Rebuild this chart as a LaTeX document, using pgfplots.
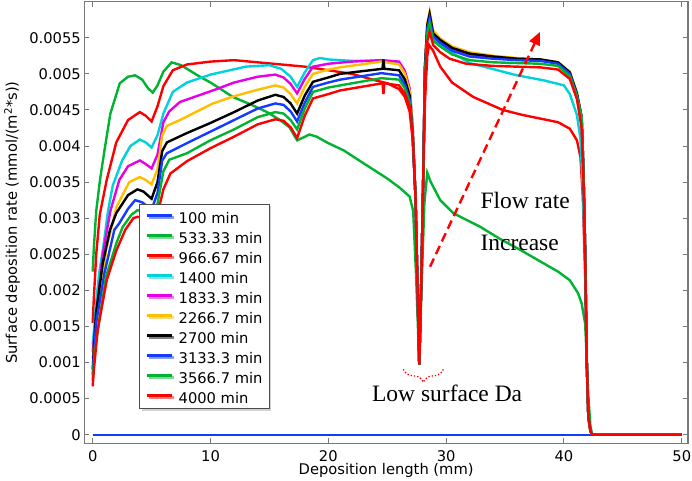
\documentclass[border=0pt]{standalone}
\usepackage{fontspec}
\setmainfont{DejaVu Sans}
\newfontfamily\tnr{Liberation Serif}
\usepackage{pgfplots}
\pgfplotsset{compat=1.18}
\usetikzlibrary{arrows.meta,decorations.pathreplacing,shadows}
\definecolor{cblue}{RGB}{20,60,255}
\definecolor{cgreen}{RGB}{0,180,50}
\definecolor{cred}{RGB}{255,0,0}
\definecolor{ccyan}{RGB}{0,210,220}
\definecolor{cmag}{RGB}{230,0,230}
\definecolor{corange}{RGB}{255,190,0}
\definecolor{framegray}{RGB}{120,120,120}
\begin{document}
\begin{tikzpicture}
\begin{axis}[
  scale only axis, width=603.7pt, height=441.6pt,
  xmin=-0.713, xmax=50.53, ymin=-0.000119, ymax=0.006,
  xtick={0,10,20,30,40,50},
  ytick={0,0.0005,0.001,0.0015,0.002,0.0025,0.003,0.0035,0.004,0.0045,0.005,0.0055},
  scaled y ticks=false, scaled x ticks=false,
  /pgf/number format/assume math mode=true,
  yticklabel style={/pgf/number format/fixed,/pgf/number format/precision=4,anchor=east,inner sep=0pt,xshift=-3.3pt},
  xticklabel style={anchor=north,inner sep=0pt,yshift=-6.7pt},
  ticklabel style={font=\fontsize{14.7}{17}\selectfont},
  tick align=inside, major tick length=5pt,
  axis line style={framegray,line width=1.3pt},
  every tick/.style={framegray,line width=1pt},
  xlabel={Deposition length (mm)},
  ylabel={Surface deposition rate (mmol/(m\textsuperscript{2}*s))},
  every axis x label/.style={at={(axis description cs:0.5,-0.0718)},anchor=base,inner sep=0pt,font=\fontsize{14.7}{17}\selectfont},
  every axis y label/.style={at={(axis description cs:-0.1115,0.5)},rotate=90,anchor=base,inner sep=0pt,font=\fontsize{14.7}{17}\selectfont},
  legend style={at={(axis description cs:0.0911,0.542)},anchor=north west,draw=gray!60!black,line width=1pt,fill=white,
    font=\fontsize{14.7}{17}\selectfont,inner xsep=6.5pt,inner ysep=5pt,row sep=5.7pt,
    nodes={inner sep=0pt,text height=14.3pt,text depth=0pt},
    /tikz/every odd column/.append style={column sep=5pt},
    drop shadow={shadow xshift=2pt,shadow yshift=-2pt,fill=gray!70}},
  legend cell align=left,
  legend image code/.code={\draw[#1,line width=2.4pt] (0pt,1pt) -- (25pt,1pt);},
  every axis plot/.append style={line width=2.4pt},
]
\addplot[cblue] coordinates {(0,0)(50,0)};
\addlegendentry{100 min}
\addplot[cgreen] coordinates {(0,0.00226)(0.1,0.0026)(0.3,0.0031)(0.62,0.00353)(1.0,0.00394)(1.5,0.00445)(2.3,0.00487)(3.0,0.00496)(3.6,0.00498)(4.2,0.00492)(4.7,0.0048)(5.1,0.00474)(5.5,0.00484)(6.0,0.00503)(6.7,0.00516)(7.5,0.00512)(9.1,0.00496)(10,0.00488)(11.9,0.00468)(13.5,0.00457)(14.8,0.00447)(15.9,0.00436)(16.7,0.00426)(17.35,0.00408)(17.9,0.00412)(18.4,0.00416)(19,0.00413)(20,0.00404)(21.3,0.00394)(23,0.00376)(25,0.00355)(26,0.00343)(26.9,0.0033)(27.2,0.0031)(27.45,0.0022)(27.72,0.00097)(27.95,0.0022)(28.15,0.0032)(28.4,0.00363)(28.7,0.0035)(29.5,0.00325)(30.6,0.00307)(32.9,0.00288)(34.5,0.00272)(36.3,0.00256)(38,0.0024)(39.5,0.00226)(40.5,0.00214)(41.2,0.00196)(41.5,0.00182)(41.8,0.00154)(42.07,0.00053)(42.25,0.00012)(42.4,0)(50,0)};
\addlegendentry{533.33 min}
\addplot[cred] coordinates {(0,0.00155)(0.1,0.0019)(0.3,0.0025)(0.6,0.00305)(1.19,0.00353)(2.0,0.00405)(3.0,0.00436)(4.0,0.00447)(4.5,0.00442)(5.0,0.00434)(5.5,0.00455)(6.0,0.00483)(6.8,0.00505)(8,0.00513)(10,0.00517)(12,0.00519)(14,0.00516)(16,0.00513)(18,0.0051)(20,0.00505)(22,0.005)(24,0.00491)(25,0.00487)(26,0.00479)(26.5,0.00468)(26.9,0.00448)(27.15,0.0041)(27.4,0.0033)(27.55,0.0022)(27.72,0.00097)(27.9,0.0022)(28.05,0.0035)(28.2,0.0046)(28.4,0.00525)(28.55,0.0054)(28.9,0.00532)(29.5,0.0051)(30.5,0.00488)(32.3,0.00468)(34.8,0.0045)(36.5,0.00443)(38,0.00438)(39.5,0.00433)(40.5,0.00424)(41.1,0.00408)(41.4,0.00385)(41.6,0.0033)(41.8,0.0022)(41.94,0.00099)(42.07,0.00025)(42.25,0.00005)(42.4,0)(50,0)};
\addlegendentry{966.67 min}
\addplot[ccyan] coordinates {(0,0.00125)(0.14,0.0015)(0.3,0.00185)(0.56,0.00225)(0.9,0.0026)(1.3,0.0031)(1.7,0.00345)(2.5,0.0038)(3.2,0.004)(4.0,0.00409)(4.5,0.00405)(5.0,0.00398)(5.5,0.00415)(6.0,0.00445)(6.8,0.00475)(8,0.00488)(10,0.00499)(13,0.0051)(15,0.00512)(16,0.00507)(16.8,0.00496)(17.35,0.00482)(18,0.00502)(18.7,0.00519)(19.3,0.00522)(20,0.0052)(22,0.00518)(24.5,0.00518)(26,0.00514)(26.5,0.00502)(26.9,0.00478)(27.15,0.0043)(27.4,0.0033)(27.55,0.0022)(27.72,0.00097)(27.9,0.0022)(28.05,0.0035)(28.2,0.005)(28.4,0.00558)(28.6,0.00573)(28.9,0.0055)(29.5,0.0054)(30.5,0.00529)(32,0.00515)(33.2,0.0051)(36,0.00498)(38.3,0.00491)(40,0.00484)(40.5,0.00472)(41.1,0.00443)(41.4,0.0041)(41.6,0.0034)(41.8,0.0024)(41.94,0.00099)(42.07,0.00025)(42.25,0.00005)(42.4,0)(50,0)};
\addlegendentry{1400 min}
\addplot[cmag] coordinates {(0,0.00115)(0.1,0.0013)(0.28,0.0016)(0.85,0.0025)(1.5,0.0031)(2.26,0.00353)(3.0,0.00372)(4.0,0.0038)(4.5,0.00375)(5.0,0.00369)(5.5,0.00388)(6.0,0.00433)(6.5,0.00448)(7.4,0.00461)(10.2,0.00477)(12,0.00488)(14,0.00496)(15.5,0.00499)(16.2,0.00495)(16.8,0.00486)(17.35,0.00473)(18,0.00493)(18.7,0.0051)(20,0.00514)(22,0.00517)(24.5,0.00519)(26,0.00517)(26.5,0.00504)(26.9,0.0048)(27.15,0.0043)(27.4,0.0033)(27.55,0.0022)(27.72,0.00097)(27.9,0.0022)(28.05,0.0035)(28.2,0.0051)(28.4,0.00565)(28.6,0.0058)(28.9,0.00556)(29.5,0.00546)(30.5,0.00535)(32,0.00527)(34,0.00523)(36,0.0052)(38,0.00519)(39.5,0.00515)(40.5,0.00501)(41.1,0.00472)(41.5,0.0044)(41.65,0.0037)(41.8,0.00256)(41.94,0.00099)(42.07,0.00025)(42.25,0.00005)(42.4,0)(50,0)};
\addlegendentry{1833.3 min}
\addplot[corange] coordinates {(0,0.00105)(0.1,0.0012)(0.42,0.0016)(1.13,0.00255)(2.0,0.00315)(3.1,0.0035)(4.0,0.00357)(4.5,0.00353)(5.0,0.00347)(5.5,0.00368)(5.9,0.00415)(6.3,0.00428)(7.4,0.00436)(10.2,0.00459)(12,0.00469)(14,0.00478)(15.5,0.00484)(16.2,0.00481)(16.8,0.00472)(17.35,0.00459)(18,0.00482)(18.7,0.005)(20,0.00506)(21,0.00509)(24.5,0.00517)(26,0.00513)(26.5,0.005)(26.9,0.00476)(27.15,0.0043)(27.4,0.0033)(27.55,0.0022)(27.72,0.00097)(27.9,0.0022)(28.05,0.0035)(28.2,0.0051)(28.4,0.0057)(28.6,0.00586)(28.9,0.0056)(29.5,0.00549)(30.5,0.00538)(32,0.0053)(34,0.00525)(36,0.00522)(38,0.0052)(39.5,0.00516)(40.5,0.00503)(41.1,0.00474)(41.5,0.0044)(41.65,0.0037)(41.8,0.00256)(41.94,0.00099)(42.07,0.00025)(42.25,0.00005)(42.4,0)(50,0)};
\addlegendentry{2266.7 min}
\addplot[black] coordinates {(0,0.0009)(0.1,0.0012)(0.28,0.00168)(0.85,0.00237)(1.47,0.00284)(2.0,0.00307)(3.0,0.00332)(3.8,0.0034)(4.3,0.00337)(5.0,0.00327)(5.5,0.0035)(5.9,0.00393)(6.3,0.00405)(8,0.00418)(10,0.00432)(12,0.00447)(14,0.00463)(15.5,0.00471)(16.2,0.00468)(16.8,0.00459)(17.35,0.00445)(18,0.0047)(18.7,0.00489)(20,0.00495)(21,0.005)(22.5,0.00503)(24.6,0.00507)(24.68,0.0052)(24.76,0.00507)(26,0.00505)(26.5,0.00492)(26.9,0.0047)(27.15,0.0042)(27.4,0.0033)(27.55,0.0022)(27.72,0.00097)(27.9,0.0022)(28.05,0.0035)(28.2,0.0051)(28.4,0.00568)(28.6,0.00583)(28.9,0.00556)(29.5,0.00547)(30.5,0.00536)(32,0.00528)(34,0.00524)(36,0.00521)(38,0.0052)(39.5,0.00516)(40.5,0.00502)(41.1,0.00473)(41.5,0.0044)(41.65,0.0037)(41.8,0.00256)(41.94,0.00099)(42.07,0.00025)(42.25,0.00005)(42.4,0)(50,0)};
\addlegendentry{2700 min}
\addplot[cblue] coordinates {(0,0.00082)(0.1,0.0011)(0.28,0.00154)(1.0,0.00224)(1.84,0.00284)(2.26,0.00293)(3.0,0.00313)(3.6,0.00325)(4.2,0.00322)(5.0,0.00312)(5.5,0.00335)(5.9,0.0038)(6.3,0.0039)(8,0.00404)(10,0.0042)(12,0.00436)(14,0.00452)(15.5,0.00459)(16.2,0.00457)(16.8,0.00448)(17.35,0.00434)(18,0.0046)(18.7,0.00482)(20,0.00488)(21,0.00492)(24.5,0.00501)(26,0.00498)(26.5,0.00485)(26.9,0.00465)(27.15,0.0042)(27.4,0.0033)(27.55,0.0022)(27.72,0.00097)(27.9,0.0022)(28.05,0.0035)(28.2,0.005)(28.4,0.00562)(28.6,0.00577)(28.9,0.00552)(29.5,0.00543)(30.5,0.00532)(32,0.00524)(34,0.00521)(36,0.00519)(38,0.00518)(39.5,0.00514)(40.5,0.005)(41.1,0.00471)(41.5,0.0044)(41.65,0.0037)(41.8,0.00256)(41.94,0.00099)(42.07,0.00025)(42.25,0.00005)(42.4,0)(50,0)};
\addlegendentry{3133.3 min}
\addplot[cgreen] coordinates {(0,0.00075)(0.1,0.001)(0.3,0.0013)(1.13,0.00219)(2.0,0.00265)(2.55,0.00288)(3.3,0.00305)(3.8,0.00311)(4.3,0.0031)(5.0,0.00303)(5.5,0.0032)(6.0,0.00365)(6.5,0.00381)(8,0.0039)(10,0.00408)(12,0.00423)(14,0.0044)(15.5,0.00447)(16.2,0.00445)(16.8,0.00436)(17.35,0.00423)(18,0.00452)(18.7,0.00475)(20,0.00481)(21,0.00484)(24.5,0.00494)(26,0.00492)(26.5,0.0048)(26.9,0.0046)(27.15,0.0042)(27.4,0.0033)(27.55,0.0022)(27.72,0.00097)(27.9,0.0022)(28.05,0.0035)(28.2,0.005)(28.4,0.00556)(28.6,0.0057)(28.9,0.00546)(29.5,0.00538)(30.5,0.00527)(32,0.00519)(34,0.00516)(36,0.00515)(38,0.00514)(39.5,0.00511)(40.5,0.00497)(41.1,0.00469)(41.5,0.0044)(41.65,0.0037)(41.8,0.00256)(41.94,0.00099)(42.07,0.00025)(42.25,0.00005)(42.4,0)(50,0)};
\addlegendentry{3566.7 min}
\addplot[cred] coordinates {(0,0.00067)(0.1,0.0009)(0.42,0.00145)(1.19,0.00214)(2.0,0.00255)(2.77,0.00284)(3.45,0.003)(3.8,0.00302)(4.3,0.003)(5.0,0.00293)(5.5,0.00305)(6.0,0.0034)(6.6,0.00362)(8,0.00379)(10,0.00397)(12,0.00413)(14,0.0043)(15.5,0.00437)(16.2,0.00435)(16.8,0.00426)(17.35,0.00411)(18,0.00442)(18.7,0.00466)(20,0.00472)(21,0.00477)(24.6,0.00487)(24.68,0.00472)(24.76,0.00487)(26,0.00484)(26.5,0.00473)(26.9,0.00455)(27.15,0.0042)(27.4,0.0033)(27.55,0.0022)(27.72,0.00097)(27.9,0.0022)(28.05,0.0035)(28.2,0.0049)(28.4,0.00545)(28.6,0.00558)(28.9,0.0054)(29.5,0.0053)(30.3,0.00521)(31.7,0.00514)(34,0.00511)(36,0.0051)(38,0.00509)(39.5,0.00506)(40.5,0.00493)(41.1,0.00465)(41.5,0.00425)(41.65,0.0036)(41.8,0.0025)(41.94,0.00099)(42.07,0.00025)(42.25,0.00005)(42.4,0)(50,0)};
\addlegendentry{4000 min}
\draw[cred,line width=2.4pt,dash pattern=on 9pt off 5pt,-{Triangle[length=13pt,width=11pt]}] (axis cs:28.63,0.002327) -- (axis cs:37.97,0.005582);
\draw[cred,dotted,line width=1.3pt,decorate,decoration={brace,mirror,amplitude=13pt}] (axis cs:26.37,0.000906) -- (axis cs:29.76,0.000906);
\node[anchor=base west,inner sep=0pt,font=\tnr\fontsize{23.5}{28}\selectfont] at (axis cs:32.9,0.003136) {Flow rate};
\node[anchor=base west,inner sep=0pt,font=\tnr\fontsize{23.5}{28}\selectfont] at (axis cs:32.9,0.002558) {Increase};
\node[anchor=base west,inner sep=0pt,font=\tnr\fontsize{23.5}{28}\selectfont] at (axis cs:23.7,0.000457) {Low surface Da};
\coordinate (bl) at (rel axis cs:0,0);
\coordinate (tr) at (rel axis cs:1,1);
\end{axis}
\pgfresetboundingbox
\path ([shift={(-84.3pt,-37.7pt)}]bl) rectangle ([shift={(4pt,1.7pt)}]tr);
\end{tikzpicture}
\end{document}
